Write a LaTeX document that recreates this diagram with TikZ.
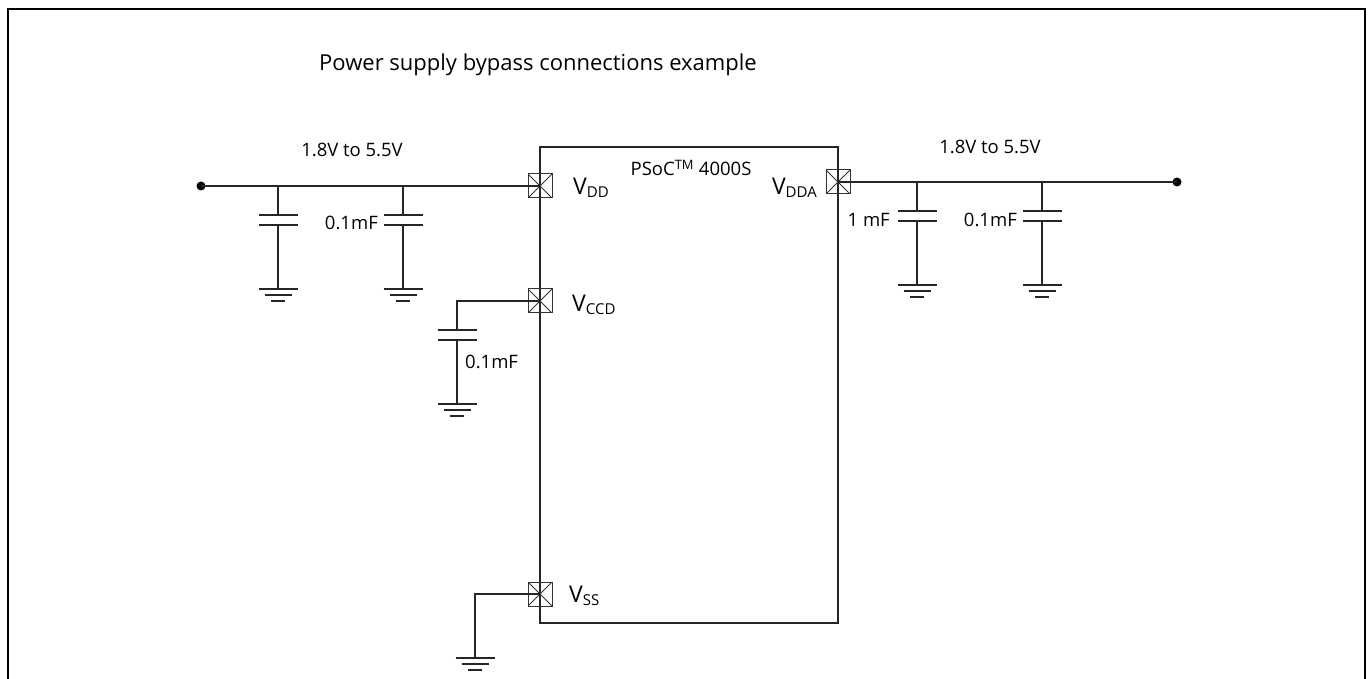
\documentclass[tikz,border=0pt]{standalone}
\usepackage{fontspec}
\setmainfont{Open Sans}
\begin{document}
\begin{tikzpicture}[x=1pt,y=-1pt,
  wire/.style={line width=1.3pt, draw=black!85},
  plate/.style={line width=1.5pt, draw=black!85},
  pinbox/.style={draw=black!80, line width=1pt, minimum size=24pt, inner sep=0pt, outer sep=0pt,
    path picture={\draw[line width=0.8pt] (path picture bounding box.north west) -- (path picture bounding box.south east)
      (path picture bounding box.north east) -- (path picture bounding box.south west);}},
  lbl/.style={inner sep=0pt, font=\fontsize{18.5}{18.5}\selectfont},
  dotn/.style={circle, fill=black, minimum size=9pt, inner sep=0pt},
  gnd/.pic={\draw[plate] (-19.5,0) -- (19.5,0) (-13.5,6) -- (13.5,6) (-7,12) -- (7,12);},
  capp/.pic={\draw[plate] (-19.5,0) -- (19.5,0) (-19.5,10) -- (19.5,10);}
]
\newcommand{\vlab}[2]{{\fontsize{23}{23}\selectfont V}{\fontsize{15}{15}\selectfont\raisebox{-3pt}{#2}}}
\useasboundingbox (0,0) rectangle (1369,679);
% frame
\draw[line width=2.2pt] (8,700) -- (8,9) -- (1365,9) -- (1365,700);

% title
\node[inner sep=0pt, font=\fontsize{22}{22}\selectfont, anchor=base west] (title) at (319,71) {Power supply bypass connections example};

% IC
\node[draw=black!85, line width=1.2pt, minimum width=298pt, minimum height=476pt, inner sep=0pt, outer sep=0pt, anchor=north west] (ic) at (540,147) {};
\node[lbl, anchor=base] (psoc) at (691,176) {PSoC\textsuperscript{TM} 4000S};

% pins
\node[pinbox] (vdd) at (540,186) {};
\node[pinbox] (vccd) at (540,301) {};
\node[pinbox] (vss) at (540,594) {};
\node[pinbox] (vdda) at (838,182) {};

\node[inner sep=0pt, anchor=base west] (lvdd) at (573,195) {\vlab{}{DD}};
\node[inner sep=0pt, anchor=base west] (lvccd) at (572,312) {\vlab{}{CCD}};
\node[inner sep=0pt, anchor=base west] (lvss) at (569,602) {\vlab{}{SS}};
\node[inner sep=0pt, anchor=base east] (lvdda) at (817,195) {\vlab{}{DDA}};

% ---- left supply ----
\node[dotn] (dl) at (201,186) {};
\coordinate (j1) at (278,186);
\coordinate (j2) at (403,186);
\draw[wire] (dl.center) -- (vdd.center);
\node[lbl, anchor=base] (vl) at (352,157) {1.8V to 5.5V};
% cap 1
\coordinate (c1t) at (278,215); \coordinate (c1b) at (278,225); \coordinate (g1) at (278,289);
\pic at (c1t) {capp}; \pic at (g1) {gnd};
\draw[wire] (j1) -- (c1t) (c1b) -- (g1);
% cap 2
\coordinate (c2t) at (403,215); \coordinate (c2b) at (403,225); \coordinate (g2) at (403,289);
\pic at (c2t) {capp}; \pic at (g2) {gnd};
\draw[wire] (j2) -- (c2t) (c2b) -- (g2);
\node[lbl, anchor=base east] (l2) at (378,230) {0.1mF};

% ---- VCCD cap ----
\coordinate (k1) at (457,301);
\coordinate (c3t) at (457,330); \coordinate (c3b) at (457,340); \coordinate (g3) at (457,404);
\pic at (c3t) {capp}; \pic at (g3) {gnd};
\draw[wire] (vccd.center) -- (k1) -- (c3t) (c3b) -- (g3);
\node[lbl, anchor=base west] (l3) at (465,368) {0.1mF};

% ---- VSS ground ----
\coordinate (k2) at (475,594);
\coordinate (g4) at (475,658);
\pic at (g4) {gnd};
\draw[wire] (vss.center) -- (k2) -- (g4);

% ---- right supply ----
\node[dotn] (dr) at (1177,182) {};
\coordinate (j3) at (917,182);
\coordinate (j4) at (1042,182);
\draw[wire] (vdda.center) -- (dr.center);
\node[lbl, anchor=base] (vr) at (990,154) {1.8V to 5.5V};
\coordinate (c5t) at (917,211); \coordinate (c5b) at (917,221); \coordinate (g5) at (917,285);
\pic at (c5t) {capp}; \pic at (g5) {gnd};
\draw[wire] (j3) -- (c5t) (c5b) -- (g5);
\node[lbl, anchor=base east] (l5) at (890,227) {1 mF};
\coordinate (c6t) at (1042,211); \coordinate (c6b) at (1042,221); \coordinate (g6) at (1042,285);
\pic at (c6t) {capp}; \pic at (g6) {gnd};
\draw[wire] (j4) -- (c6t) (c6b) -- (g6);
\node[lbl, anchor=base east] (l6) at (1017,227) {0.1mF};
\end{tikzpicture}
\end{document}
